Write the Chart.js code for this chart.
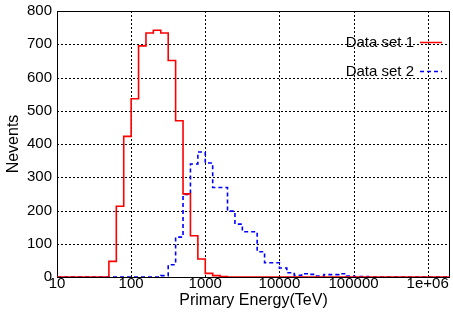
<!DOCTYPE html>
<html>
<head>
<meta charset="utf-8">
<script src="https://cdn.jsdelivr.net/npm/chart.js@4/dist/chart.umd.min.js"></script>
<style>
  html, body { margin: 0; padding: 0; background: #fff; }
  #wrap { width: 453px; height: 312px; }
</style>
</head>
<body>
<div id="wrap"><canvas id="chart-energy"></canvas></div>
<script>
// bin lower edges: 10 bins per decade, 10 .. 2e6
const binEdges = Array.from({ length: 54 }, (_, i) => Math.pow(10, 1 + i / 10));

const set1Counts = [
  0, 0, 0, 0, 0, 0, 0, 47, 213, 423,
  536, 695, 734, 742, 734, 651, 470, 250, 124, 54,
  11, 4, 1, 0, 0, 0, 0, 0, 0, 0,
  0, 0, 0, 0, 0, 0, 0, 0, 0, 0,
  0, 0, 0, 0, 0, 0, 0, 0, 0, 0,
  0, 0, 0
];
const set2Counts = [
  0, 0, 0, 0, 0, 0, 0, 0, 0, 0,
  0, 0, 0, 0, 4, 37, 120, 248, 340, 376,
  343, 269, 269, 198, 159, 136, 136, 76, 43, 43,
  27, 13, 5, 10, 8, 3, 7, 7, 10, 3,
  1, 1, 0, 0, 0, 0, 0, 0, 0, 0,
  0, 0, 0
];
const xTicks = [10, 100, 1000, 10000, 100000, 1000000];
const seriesNames = ["Data set 1", "Data set 2"];

const FONT = "'Liberation Sans', Arial, Helvetica, sans-serif";

function toSteps(counts) {
  const pts = counts.map((c, i) => ({ x: binEdges[i], y: c }));
  pts.push({ x: binEdges[counts.length], y: 0 });
  return pts;
}

// dotted grid, plot frame and gnuplot-style key (text left of the sample line)
const framePlugin = {
  id: "frame",
  beforeDatasetsDraw(chart) {
    const { ctx, chartArea: a, scales } = chart;
    ctx.save();
    ctx.strokeStyle = "#000";
    ctx.lineWidth = 1;
    ctx.setLineDash([2, 2]);
    ctx.beginPath();
    scales.x.ticks.forEach(t => {
      const x = Math.round(scales.x.getPixelForValue(t.value)) + 0.5;
      ctx.moveTo(x, a.top); ctx.lineTo(x, a.bottom);
    });
    scales.y.ticks.forEach(t => {
      const y = Math.round(scales.y.getPixelForValue(t.value)) + 0.5;
      ctx.moveTo(a.left, y); ctx.lineTo(a.right, y);
    });
    ctx.stroke();
    ctx.setLineDash([]);
    ctx.strokeRect(a.left + 0.5, a.top + 0.5, a.right - a.left - 1, a.bottom - a.top);
    ctx.restore();
  },
  afterDraw(chart) {
    const { ctx, chartArea: a } = chart;
    ctx.save();
    ctx.font = "15px " + FONT;
    ctx.textAlign = "right";
    ctx.textBaseline = "middle";
    chart.data.datasets.forEach((ds, i) => {
      const y = a.top + 31.5 + i * 29;
      ctx.fillStyle = "#000";
      ctx.fillText(ds.label, a.right - 36, y);
      ctx.strokeStyle = ds.borderColor;
      ctx.lineWidth = 1.5;
      ctx.setLineDash(ds.borderDash || []);
      ctx.beginPath();
      ctx.moveTo(a.right - 30, y);
      ctx.lineTo(a.right - 8, y);
      ctx.stroke();
    });
    ctx.restore();
  }
};

new Chart(document.getElementById("chart-energy").getContext("2d"), {
  type: "line",
  data: {
    datasets: [
      { label: seriesNames[0], data: toSteps(set1Counts), borderColor: "#ff0000", borderWidth: 1.6, stepped: true, pointRadius: 0, fill: false },
      { label: seriesNames[1], data: toSteps(set2Counts), borderColor: "#0000ff", borderWidth: 1.6, borderDash: [4, 3], stepped: true, pointRadius: 0, fill: false },
    ],
  },
  options: {
    responsive: true, maintainAspectRatio: false, animation: false,
    layout: { padding: { top: 11, right: 3, bottom: 0, left: 4 } },
    plugins: { legend: { display: false }, tooltip: { enabled: false } },
    scales: {
      x: {
        type: "logarithmic", min: 10, max: 2000000,
        afterBuildTicks: (s) => { s.ticks = xTicks.map(v => ({ value: v })); },
        afterFit: (s) => { s.height = 35; s.paddingLeft = 0; s.paddingRight = 0; },
        grid: { display: false, drawTicks: false },
        border: { display: false },
        ticks: {
          autoSkip: false, maxRotation: 0, padding: -2, color: "#000",
          font: { size: 15, family: FONT },
          callback: (v) => (v === 1000000 ? "1e+06" : String(v)),
        },
        title: { display: true, text: "Primary Energy(TeV)", color: "#000", padding: { top: 0, bottom: 2 }, font: { size: 16, family: FONT } },
      },
      y: {
        min: 0, max: 800,
        afterFit: (s) => { s.width = 53; s.paddingTop = 0; s.paddingBottom = 0; },
        grid: { display: false, drawTicks: false },
        border: { display: false },
        ticks: { stepSize: 100, padding: 5, color: "#000", font: { size: 15, family: FONT } },
        title: { display: true, text: "Nevents", color: "#000", padding: 0, font: { size: 16, family: FONT } },
      },
    },
  },
  plugins: [framePlugin],
});
</script>
</body>
</html>
